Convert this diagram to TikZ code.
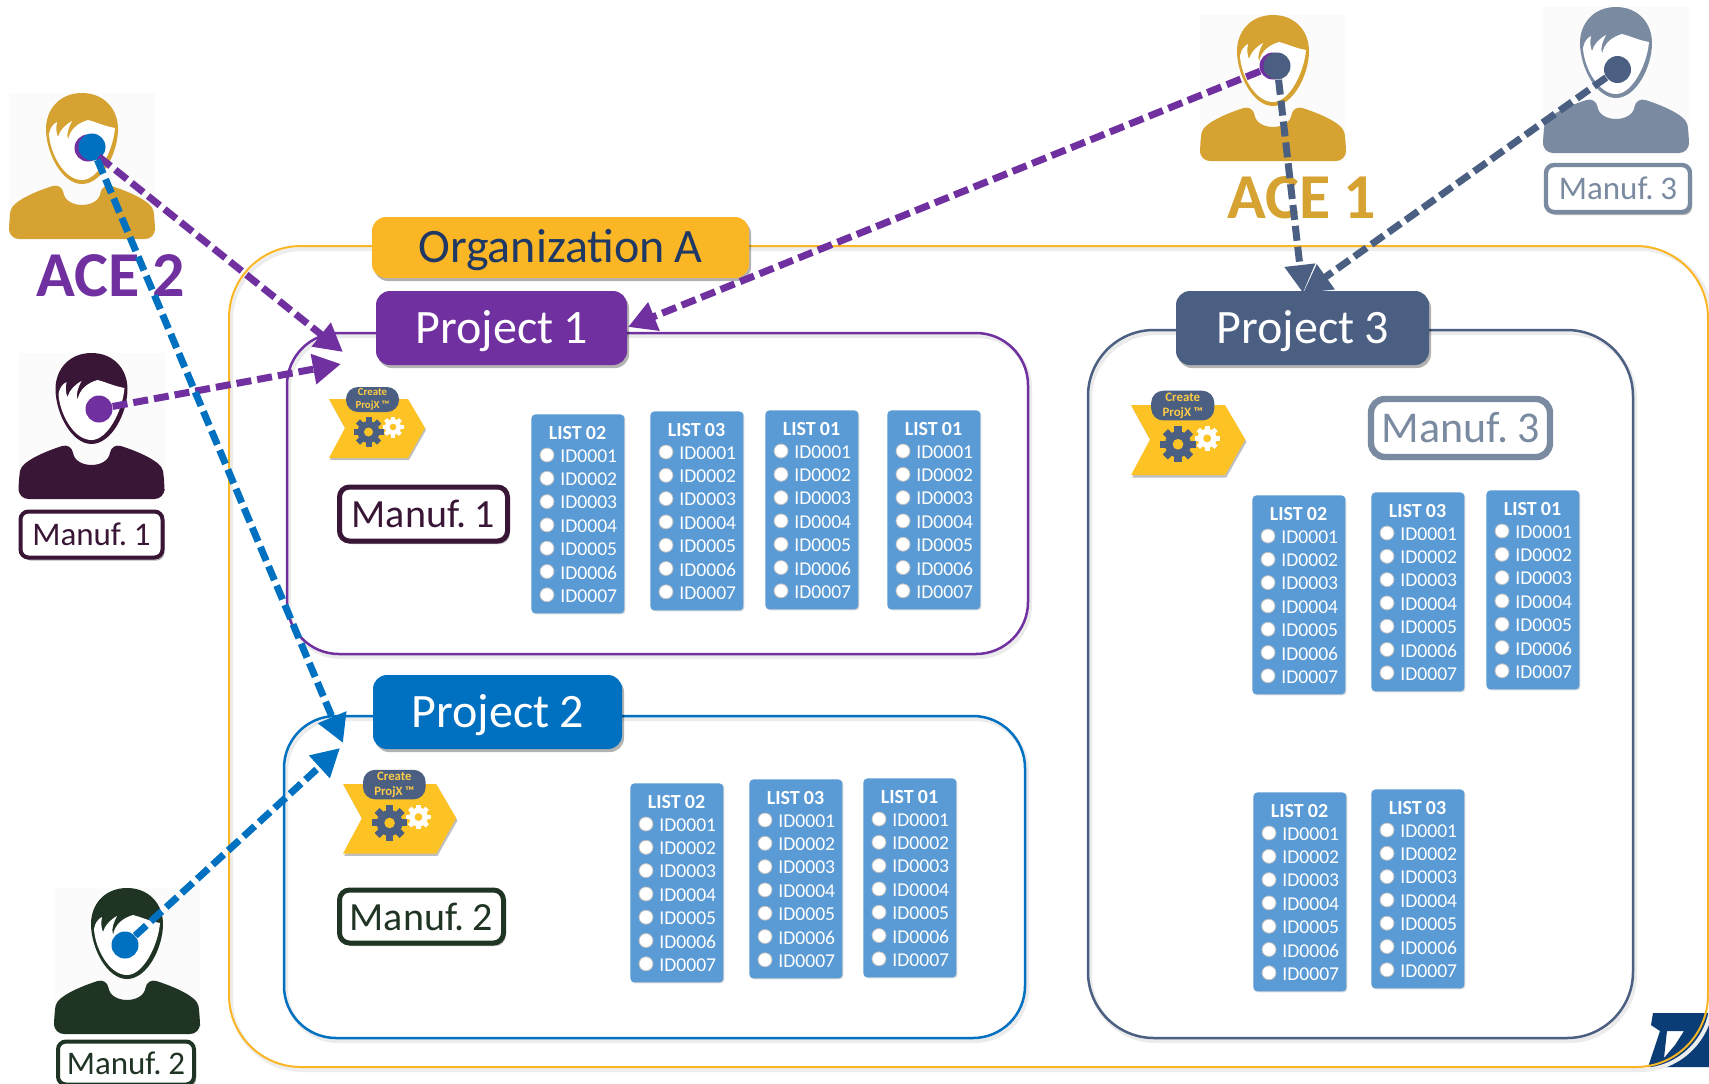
\documentclass[tikz,border=0pt]{standalone}
\usepackage{fontspec}
\setmainfont{Carlito}[WordSpace=0.9]
\usetikzlibrary{arrows.meta,shadows}
\frenchspacing
\definecolor{orgY}{HTML}{FBB625}
\definecolor{chevY}{HTML}{FDC224}
\definecolor{navy}{HTML}{1F3864}
\definecolor{purp}{HTML}{7030A0}
\definecolor{blu}{HTML}{0070C0}
\definecolor{slate}{HTML}{4A5F82}
\definecolor{ace}{HTML}{D6A232}
\definecolor{grayp}{HTML}{7A8AA0}
\definecolor{dkpurp}{HTML}{3A1636}
\definecolor{dkgreen}{HTML}{203424}
\definecolor{listb}{HTML}{5B9BD5}
\definecolor{logoB}{HTML}{0A3D75}
\tikzset{
  softshadow/.style={drop shadow={shadow xshift=1pt,shadow yshift=-1.5pt,opacity=.3,fill=black}},
  titlebox/.style={rounded corners=7pt,softshadow,text height=18pt,text depth=3pt,inner sep=0pt},
  frameline/.style={line width=1.25pt,rounded corners=#1},
  frameshadow/.style={line width=2pt,rounded corners=#1,black!8},
  manufbox/.style={draw=#1,fill=white,line width=2.5pt,rounded corners=5pt,text=#1,inner sep=0pt,anchor=center,softshadow},
  personbg/.style={fill=black!1.5,draw=none},
  dot/.style={circle,fill=#1,minimum size=13.5pt,inner sep=0pt,draw=none},
  dashcon/.style={draw=#1,line width=3.5pt,dash pattern=on 7.5pt off 3pt,-{Triangle[length=14pt,width=14.5pt,fill=#1]}},
}
% person: origin at top centre of head
\newcommand{\persondraw}[3]{%
\begin{scope}[shift={(#1,#2)}]
  \fill[personbg] (-73,0) rectangle (73,146);
  \fill[#3,rounded corners=5pt] (-73,146) -- (-73,128) .. controls (-70,108) and (-45,98) .. (-20,90) .. controls (-16,116) and (16,116) .. (20,90) .. controls (45,98) and (70,108) .. (73,128) -- (73,146) -- cycle;
  \fill[#3] (0,0) .. controls (22,0) and (36,16) .. (36,36) .. controls (36,60) and (20,91) .. (0,91) .. controls (-20,91) and (-36,60) .. (-36,36) .. controls (-36,16) and (-22,0) .. (0,0) -- cycle;
  \fill[white] (33,35) .. controls (22,33) and (14,29) .. (6,27) .. controls (-4,30) and (-12,36) .. (-14,47) .. controls (-16,40) and (-13,34) .. (-10,28) .. controls (-17,32) and (-22,37) .. (-24,44) .. controls (-26,40) and (-26,34) .. (-25,29) .. controls (-29,31) and (-32,35) .. (-33,41) .. controls (-32,60) and (-18,87) .. (0,87) .. controls (16,87) and (31,58) .. (33,35) -- cycle;
\end{scope}}
% chevron: origin at left top, base width 96
\newcommand{\chevron}[4]{%
\begin{scope}[shift={(#1,#2)},scale=#3,transform shape]
  \fill[black!25] (1,2) -- (80,2) -- (97,31) -- (80,61) -- (1,61) -- (17,31) -- cycle;
  \fill[chevY] (0,0) -- (79,0) -- (96,29) -- (79,59) -- (0,59) -- (16,29) -- cycle;
  \fill[slate,rounded corners=6pt] (17,-12) rectangle (70,13);
  \node[text=chevY!85!white,font=\fontsize{5.4}{6.2}\bfseries\selectfont,align=center,inner sep=0pt] (#4) at (43.5,0.5) {Create\\ProjX ™};
  \foreach \a in {0,45,...,135}{\fill[slate,rotate around={\a:(39.5,33)}] (36.5,18) rectangle (42.5,48);}
  \fill[slate] (39.5,33) circle[radius=11];
  \fill[chevY] (39.5,33) circle[radius=4.5];
  \foreach \a in {0,45,...,135}{\fill[white,rotate around={\a:(64,28)}] (62,17.5) rectangle (66,38.5);}
  \fill[white] (64,28) circle[radius=8];
  \fill[chevY] (64,28) circle[radius=3.3];
\end{scope}}
% list: left, top, title, name
\newcommand{\idlist}[4]{%
\begin{scope}[shift={(#1,#2)}]
  \node[fill=listb,rounded corners=2pt,minimum width=46.5pt,minimum height=99.5pt,inner sep=0pt,anchor=north west,drop shadow={shadow xshift=.5pt,shadow yshift=-.5pt,opacity=.15,fill=black}] (#4) at (0,0) {};
  \node[text=white,font=\fontsize{10}{11}\bfseries\selectfont,inner sep=0pt] at (46.5,19) {#3};
  \foreach \n [count=\i from 0] in {1,...,7}{
    \fill[white,draw=black!25,line width=.4pt] (16,41+23.3*\i) circle[radius=7];
    \node[text=white,font=\fontsize{9.8}{11}\selectfont,anchor=west,inner sep=0pt] at (29,42+23.3*\i) {ID000\n};
  }
\end{scope}}
\begin{document}
\begin{tikzpicture}[x=.5pt,y=-.5pt]
\useasboundingbox[fill=white] (0,0) rectangle (1709,1083);
\clip (0,0) rectangle (1709,1083);
% logo
\fill[logoB,even odd rule] (1653,1013) -- (1709,1013) -- (1709,1067) -- (1648,1067) -- (1660,1031) -- (1651,1025) -- cycle
  (1667,1031) -- (1684,1031) -- (1675,1045) -- (1664,1058) -- cycle;
% frames
\draw[line width=2pt,rounded corners=36pt,black!7] (231,249) rectangle (1712,1070);
\draw[orgY,line width=1pt,rounded corners=36pt] (229,246) rectangle (1708,1067);
\draw[frameshadow=26pt] (289,336) rectangle (1030,657);
\draw[frameshadow=26pt] (286,719) rectangle (1027,1041);
\draw[frameshadow=33pt] (1090,333) rectangle (1635,1041);
\draw[frameline=26pt,purp] (287,333) rectangle (1028,654);
\draw[frameline=26pt,blu] (284,716) rectangle (1025,1038);
\draw[frameline=33pt,slate] (1088,330) rectangle (1633,1038);
% titles
\node[fill=orgY,titlebox,minimum width=188.5pt,minimum height=30.5pt,text=navy,font=\fontsize{24}{28}\selectfont] (org) at (560.5,247.5) {Organization A};
\node[fill=purp,titlebox,minimum width=125.5pt,minimum height=37pt,text=white,font=\fontsize{24}{28}\selectfont] (p1) at (501.5,328) {Project 1};
\node[fill=blu,titlebox,minimum width=124.5pt,minimum height=37pt,text=white,font=\fontsize{24}{28}\selectfont] (p2) at (497.5,712) {Project 2};
\node[fill=slate,titlebox,minimum width=126.5pt,minimum height=37pt,text=white,font=\fontsize{24}{28}\selectfont] (p3) at (1302.5,328) {Project 3};
% chevrons
\chevron{329}{399}{1}{c1}
\chevron{343}{784}{1.18}{c2}
\chevron{1131}{405}{1.19}{c3}
% lists
\idlist{531}{414}{LIST 02}{l11}
\idlist{650}{411}{LIST 03}{l12}
\idlist{765}{410}{LIST 01}{l13}
\idlist{887}{410}{LIST 01}{l14}
\idlist{630}{783}{LIST 02}{l21}
\idlist{749}{779}{LIST 03}{l22}
\idlist{863}{778}{LIST 01}{l23}
\idlist{1252}{495}{LIST 02}{l31}
\idlist{1371}{492}{LIST 03}{l32}
\idlist{1486}{490}{LIST 01}{l33}
\idlist{1253}{792}{LIST 02}{l34}
\idlist{1371}{789}{LIST 03}{l35}
% inner labels
\node[manufbox=dkpurp,minimum width=84pt,minimum height=27pt,font=\fontsize{20}{24}\selectfont] (m1) at (423.5,514) {Manuf. 1};
\node[manufbox=dkgreen,minimum width=82pt,minimum height=26.5pt,font=\fontsize{20}{24}\selectfont] (m2) at (421.5,916.5) {Manuf. 2};
\node[manufbox=grayp,line width=3.2pt,rounded corners=7pt,minimum width=89.5pt,minimum height=29pt,font=\fontsize{22}{26}\selectfont] (m3) at (1460.5,428) {Manuf. 3};
% people
\persondraw{82}{93}{ace}
\persondraw{91.5}{353}{dkpurp}
\persondraw{127}{888}{dkgreen}
\persondraw{1273}{15}{ace}
\persondraw{1616}{7}{grayp}
% person labels
\node[manufbox=dkpurp,line width=2pt,rounded corners=4pt,minimum width=71pt,minimum height=23pt,font=\fontsize{16.5}{20}\selectfont] (lm1) at (91.5,534.5) {Manuf. 1};
\node[manufbox=dkgreen,line width=2pt,rounded corners=4pt,minimum width=68pt,minimum height=21.5pt,font=\fontsize{16.5}{20}\selectfont] (lm2) at (126,1063) {Manuf. 2};
\node[manufbox=grayp,line width=2.2pt,rounded corners=4pt,minimum width=72pt,minimum height=23.5pt,font=\fontsize{16.5}{20}\selectfont] (lm3) at (1618,188.5) {Manuf. 3};
\node[text=purp,font=\fontsize{32}{36}\bfseries\selectfont,inner sep=0pt] (ace2) at (111,275.5) {ACE 2};
\node[text=ace,font=\fontsize{32}{36}\bfseries\selectfont,inner sep=0pt] (ace1) at (1302,198) {ACE 1};
% dots
\node[dot=purp] (dA2p) at (88,148) {};
\node[dot=blu] (dA2b) at (92,147) {};
\node[dot=purp] (dM1) at (99,409) {};
\node[dot=blu] (dM2) at (125,945) {};
\node[dot=purp] (dA1p) at (1273,66) {};
\node[dot=slate] (dA1s) at (1277,66) {};
\node[dot=slate] (dM3) at (1617.5,69.5) {};
% free ends
\coordinate (t1) at (343,352);
\coordinate (t2) at (341,364);
\coordinate (t3) at (628,327);
\coordinate (t4) at (343,743);
\coordinate (t5) at (340,748);
\coordinate (t6) at (1303,293);
% connectors
\draw[dashcon=purp] (dA2p) -- (t1);
\draw[dashcon=purp] (dM1) -- (t2);
\draw[dashcon=purp] (dA1p) -- (t3);
\draw[dashcon=blu] (dA2b) -- (t4);
\draw[dashcon=blu] (dM2) -- (t5);
\draw[dashcon=slate] (dA1s) -- (t6);
\draw[dashcon=slate] (dM3) -- (t6);
\end{tikzpicture}
\end{document}
